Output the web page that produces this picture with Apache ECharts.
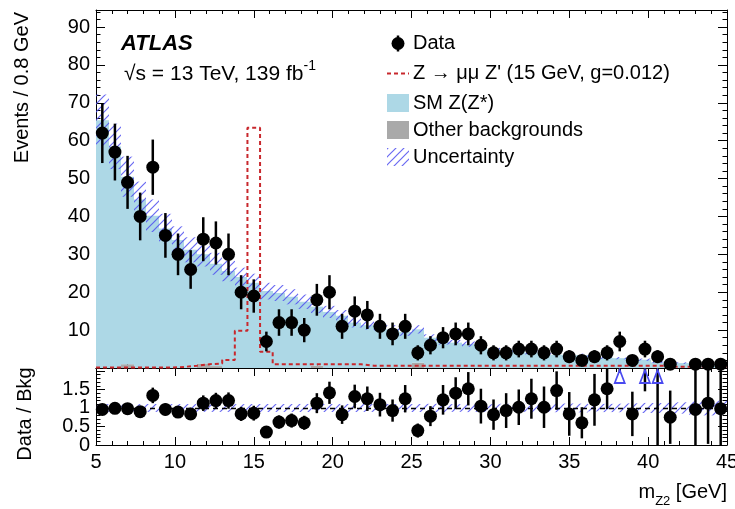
<!DOCTYPE html>
<html>
<head>
<meta charset="utf-8">
<script src="https://cdn.jsdelivr.net/npm/echarts@6/dist/echarts.min.js"></script>
<style>
html, body { margin: 0; padding: 0; background: #fff; }
#chart { width: 735px; height: 509px; }
</style>
</head>
<body>
<div id="chart"></div>
<script>
// 0.8 GeV bins from 5 to 45 GeV
var binEdges = [5, 5.8, 6.6, 7.4, 8.2, 9, 9.8, 10.6, 11.4, 12.2, 13, 13.8, 14.6, 15.4, 16.2, 17, 17.8,
  18.6, 19.4, 20.2, 21, 21.8, 22.6, 23.4, 24.2, 25, 25.8, 26.6, 27.4, 28.2, 29, 29.8, 30.6, 31.4, 32.2,
  33, 33.8, 34.6, 35.4, 36.2, 37, 37.8, 38.6, 39.4, 40.2, 41, 41.8, 42.6, 43.4, 44.2, 45];

// observed events per bin
var dataCounts = [62, 57, 49, 40, 53, 35, 30, 26, 34, 33, 30, 20, 19, 7, 12, 12, 10, 18, 20, 11,
  15, 14, 11, 9, 11, 4, 6, 8, 9, 9, 6, 4, 4, 5, 5, 4, 5, 3, 2, 3,
  4, 7, 2, 5, 3, 1, 0, 1, 1, 1];
var dataErr = [7.9, 7.5, 7.0, 6.3, 7.3, 5.9, 5.5, 5.1, 5.8, 5.7, 5.5, 4.5, 4.4, 2.6, 3.5, 3.5, 3.2, 4.2, 4.5, 3.3,
  3.9, 3.7, 3.3, 3.0, 3.3, 2.0, 2.4, 2.8, 3.0, 3.0, 2.4, 2.0, 2.0, 2.2, 2.2, 2.0, 2.2, 1.7, 1.4, 1.7,
  2.0, 2.6, 1.4, 2.2, 1.7, 1.0, 0, 1.0, 1.0, 1.0];

// SM Z(Z*) and other backgrounds (stacked), with total uncertainty
var smZZ = [65.4, 58.5, 49.5, 44.5, 40.2, 36.8, 33.8, 31.2, 28.8, 27.0, 25.6, 24.0, 22.5, 20.3, 19.8, 18.8, 17.5, 15.6, 14.8, 13.8,
  12.0, 11.3, 10.8, 10.2, 9.5, 8.8, 8.0, 7.0, 6.7, 6.3, 5.7, 4.9, 4.4, 4.8, 4.1, 3.9, 3.5, 3.3, 3.4, 3.2,
  2.7, 2.6, 2.4, 2.2, 1.5, 1.4, 1.3, 1.1, 1.0, 1.0];
var otherBkg = [0, 0, 1.0, 0, 0, 0, 0, 0, 1.2, 0.5, 0, 0, 0, 0, 0, 0, 0, 0.6, 0, 0,
  0, 0, 0, 0, 0, 1.4, 0, 0, 0, 0, 0, 0, 0, 0, 0, 0, 0, 0, 0, 0,
  0, 0, 0, 0, 0, 0, 0, 0, 0, 0];
var bkgUnc = [6.8, 6.0, 5.3, 4.7, 4.3, 3.9, 3.6, 3.3, 3.2, 2.9, 2.7, 2.5, 2.4, 2.2, 2.1, 2.0, 1.9, 1.7, 1.6, 1.5,
  1.3, 1.2, 1.2, 1.1, 1.0, 1.1, 0.9, 0.8, 0.7, 0.7, 0.6, 0.5, 0.5, 0.5, 0.5, 0.4, 0.4, 0.4, 0.4, 0.3,
  0.3, 0.3, 0.3, 0.3, 0.2, 0.2, 0.2, 0.2, 0.2, 0.2];

// Z -> mu mu Z' signal (15 GeV, g=0.012)
var signalZp = [0.1, 0.1, 0.1, 0.1, 0.1, 0.1, 0.3, 0.6, 1.0, 1.2, 2.1, 9.8, 63.4, 4.3, 1.0, 1.0, 1.0, 1.0, 1.0, 1.0,
  1.0, 0.6, 0.6, 0.6, 0.6, 0.6, 0.6, 0.6, 0.6, 0.6, 0.6, 0.6, 0.6, 0.6, 0.6, 0.6, 0.6, 0.6, 0.6, 0.6,
  0.6, 0.6, 0.6, 0.6, 0.6, 0.3, 0.3, 0.3, 0.3, 0.3];

// Data / Bkg ratio panel
var ratioVal = [0.96, 0.99, 0.98, 0.90, 1.34, 0.96, 0.89, 0.84, 1.13, 1.20, 1.20, 0.84, 0.86, 0.35, 0.62, 0.66, 0.60, 1.13, 1.41, 0.82,
  1.31, 1.25, 1.09, 0.93, 1.25, 0.39, 0.78, 1.22, 1.40, 1.52, 1.05, 0.82, 0.93, 1.02, 1.25, 1.02, 1.47, 0.84, 0.60, 1.22,
  1.52, 3.00, 0.84, 2.50, 2.30, 0.75, null, 0.96, 1.13, 0.98];
var ratioErr = [0.12, 0.13, 0.14, 0.14, 0.21, 0.16, 0.16, 0.16, 0.21, 0.21, 0.22, 0.19, 0.20, 0.14, 0.18, 0.19, 0.19, 0.27, 0.30, 0.25,
  0.32, 0.33, 0.32, 0.30, 0.37, 0.19, 0.27, 0.40, 0.43, 0.45, 0.47, 0.41, 0.47, 0.48, 0.54, 0.56, 0.52, 0.59, 0.42, 0.70,
  0.55, 1.05, 0.60, 1.05, 2.30, 0.72, null, 1.10, 1.10, 1.10];

var mainYMax = 94.5;
var ratioYMax = 2.08;
var FONT = '"Liberation Sans", Arial, Helvetica, sans-serif';

var binCenters = binEdges.slice(0, -1).map(function (e, i) { return (e + binEdges[i + 1]) / 2; });
var bkgTotal = smZZ.map(function (v, i) { return v + otherBkg[i]; });

function makeHatch(color, step, width) {
  var c = document.createElement('canvas');
  c.width = step; c.height = step;
  var ctx = c.getContext('2d');
  ctx.strokeStyle = color;
  ctx.lineWidth = width;
  ctx.beginPath();
  ctx.moveTo(-1, step + 1); ctx.lineTo(step + 1, -1);
  ctx.moveTo(-2, 2); ctx.lineTo(2, -2);
  ctx.moveTo(step - 2, step + 2); ctx.lineTo(step + 2, step - 2);
  ctx.stroke();
  return c;
}
var hatch = { image: makeHatch('rgba(80,80,240,0.85)', 8, 1.2), repeat: 'repeat' };

// one rect per bin between lows[i] and highs[i]
function histSeries(name, gi, lows, highs, style, z) {
  return {
    name: name, type: 'custom', xAxisIndex: gi * 2, yAxisIndex: gi * 2, z: z, silent: true,
    data: binCenters.map(function (c, i) { return [c, highs[i]]; }),
    renderItem: function (params, api) {
      var i = params.dataIndex;
      var cs = params.coordSys;
      var a = api.coord([binEdges[i], lows[i]]);
      var b = api.coord([binEdges[i + 1], highs[i]]);
      var x0 = Math.round(a[0]), x1 = Math.round(b[0]);
      var yBot = Math.min(a[1], cs.y + cs.height);
      var yTop = Math.max(b[1], cs.y);
      if (yBot - yTop <= 0.05) return null;
      return { type: 'rect', shape: { x: x0, y: yTop, width: x1 - x0, height: yBot - yTop },
        style: Object.assign({}, style) };
    }
  };
}

function errSeries(gi, vals, errs, z) {
  var pts = [];
  binCenters.forEach(function (c, i) {
    if (vals[i] != null && vals[i] > 0) pts.push([c, vals[i], errs[i]]);
  });
  return {
    type: 'custom', xAxisIndex: gi * 2, yAxisIndex: gi * 2, z: z, silent: true,
    data: pts,
    renderItem: function (params, api) {
      var cs = params.coordSys;
      var x = api.value(0), v = api.value(1), e = api.value(2);
      var top = api.coord([x, v + e]);
      var bot = api.coord([x, v - e]);
      var y0 = Math.max(top[1], cs.y), y1 = Math.min(bot[1], cs.y + cs.height);
      if (y1 <= y0) return null;
      return { type: 'line', shape: { x1: top[0], y1: y0, x2: top[0], y2: y1 },
        style: { stroke: '#000', lineWidth: 2.5 } };
    }
  };
}

function xAx(gi, pos, withLabels) {
  return {
    type: 'value', gridIndex: gi, position: pos, min: 5, max: 45, interval: 5,
    axisLine: { onZero: false, lineStyle: { color: '#000', width: 1 } },
    axisTick: { inside: true, length: 8, lineStyle: { color: '#000', width: 1 } },
    minorTick: { show: true, splitNumber: 5, length: 4, lineStyle: { color: '#000', width: 1 } },
    splitLine: { show: false },
    axisLabel: withLabels ? { show: true, margin: 7, color: '#000', fontSize: 20, fontFamily: FONT,
      showMinLabel: true, showMaxLabel: true, hideOverlap: false } : { show: false }
  };
}
function yAx(gi, pos, max, interval, fmt) {
  return {
    type: 'value', gridIndex: gi, position: pos, min: 0, max: max, interval: interval,
    axisLine: { onZero: false, lineStyle: { color: '#000', width: 1 } },
    axisTick: { inside: true, length: 9, lineStyle: { color: '#000', width: 1 } },
    minorTick: { show: true, splitNumber: 5, length: 4.5, lineStyle: { color: '#000', width: 1 } },
    splitLine: { show: false },
    axisLabel: fmt ? { show: true, margin: 6, color: '#000', fontSize: 20, fontFamily: FONT,
      formatter: fmt, hideOverlap: false } : { show: false }
  };
}

function pickLabels(list) {
  return function (v) {
    var ok = list.some(function (t) { return Math.abs(v - t) < 1e-6; });
    return ok ? String(Math.round(v * 10) / 10) : '';
  };
}
var mainFmt = function (v) { return (v > 0 && v <= 90 && Math.abs(v % 10) < 1e-6) ? String(v) : ''; };

// the "0" of the ratio axis sits on its own label-only axis so it is not dropped as overlapping
var ratioZeroAxis = yAx(1, 'left', ratioYMax, 0.5, pickLabels([0]));
ratioZeroAxis.axisLine = { show: false, onZero: false };
ratioZeroAxis.axisTick = { show: false };
ratioZeroAxis.minorTick = { show: false };
ratioZeroAxis.axisLabel.showMinLabel = true;

var otherLow = otherBkg.map(function () { return 0; });
var bandLow = bkgTotal.map(function (v, i) { return v - bkgUnc[i]; });
var bandHigh = bkgTotal.map(function (v, i) { return v + bkgUnc[i]; });
var ratioBandLow = bkgTotal.map(function (v, i) { return 1 - bkgUnc[i] / v; });
var ratioBandHigh = bkgTotal.map(function (v, i) { return 1 + bkgUnc[i] / v; });

var mainPoints = [];
var ratioPoints = [];
var ratioArrows = [];
binCenters.forEach(function (c, i) {
  if (dataCounts[i] > 0) mainPoints.push([c, dataCounts[i]]);
  if (ratioVal[i] != null) {
    if (ratioVal[i] <= ratioYMax) ratioPoints.push([c, ratioVal[i]]);
    else ratioArrows.push([c, ratioYMax - 0.23]);
  }
});
var signalSteps = binEdges.map(function (e, i) { return [e, signalZp[Math.min(i, signalZp.length - 1)]]; });

var chart = echarts.init(document.getElementById('chart'), null, { renderer: 'canvas' });
chart.setOption({
  animation: false,
  backgroundColor: '#fff',
  textStyle: { fontFamily: FONT },
  grid: [
    { left: 96, top: 10, width: 631, height: 358, containLabel: false, outerBoundsMode: 'none' },
    { left: 96, top: 368, width: 631, height: 77, containLabel: false, outerBoundsMode: 'none' }
  ],
  xAxis: [xAx(0, 'bottom', false), xAx(0, 'top', false), xAx(1, 'bottom', true), xAx(1, 'top', false)],
  yAxis: [yAx(0, 'left', mainYMax, 10, mainFmt), yAx(0, 'right', mainYMax, 10, null),
          yAx(1, 'left', ratioYMax, 0.5, pickLabels([0.5, 1, 1.5])), yAx(1, 'right', ratioYMax, 0.5, null),
          ratioZeroAxis],
  series: [
    histSeries('Other backgrounds', 0, otherLow, otherBkg, { fill: '#a9a9a9' }, 1),
    histSeries('SM Z(Z*)', 0, otherBkg, bkgTotal, { fill: '#add8e6' }, 1),
    histSeries('Uncertainty', 0, bandLow, bandHigh, { fill: hatch }, 2),
    {
      name: "Z' signal", type: 'line', xAxisIndex: 0, yAxisIndex: 0, z: 3, step: 'end',
      showSymbol: false, silent: true, data: signalSteps,
      lineStyle: { color: '#c8282d', width: 2, type: [4, 3] }
    },
    errSeries(0, dataCounts, dataErr, 4),
    {
      name: 'Data', type: 'scatter', xAxisIndex: 0, yAxisIndex: 0, z: 5, silent: true,
      symbol: 'circle', symbolSize: 13, data: mainPoints, itemStyle: { color: '#000', opacity: 1 }
    },
    histSeries('Ratio uncertainty', 1, ratioBandLow, ratioBandHigh, { fill: hatch }, 2),
    errSeries(1, ratioVal, ratioErr, 4),
    {
      name: 'Ratio', type: 'scatter', xAxisIndex: 2, yAxisIndex: 2, z: 5, silent: true,
      symbol: 'circle', symbolSize: 13, data: ratioPoints, itemStyle: { color: '#000', opacity: 1 },
      markLine: {
        silent: true, symbol: 'none', z: 3, label: { show: false },
        lineStyle: { color: '#000', width: 1.3, type: [5, 4], opacity: 1 },
        data: [{ yAxis: 1 }]
      }
    },
    {
      name: 'Off-scale', type: 'scatter', xAxisIndex: 2, yAxisIndex: 2, z: 6, silent: true,
      symbol: 'triangle', symbolSize: [10, 13], data: ratioArrows,
      itemStyle: { color: 'rgba(0,0,0,0)', borderColor: '#4a4af0', borderWidth: 1.8, opacity: 1 }
    }
  ],
  graphic: [
    { type: 'text', x: 121, y: 44, style: { text: 'ATLAS', fill: '#000', fontFamily: FONT, fontSize: 22,
      fontWeight: 'bold', fontStyle: 'italic', verticalAlign: 'middle' } },
    { type: 'text', x: 124, y: 72, style: {
      text: '{b|\u221As = 13 TeV, 139 fb}{s|-1}', verticalAlign: 'middle',
      rich: { b: { fontSize: 21, fontFamily: FONT, fill: '#000', lineHeight: 26, verticalAlign: 'bottom' },
              s: { fontSize: 14, fontFamily: FONT, fill: '#000', lineHeight: 26, verticalAlign: 'top' } } } },
    // legend
    { type: 'line', shape: { x1: 398, y1: 35.5, x2: 398, y2: 51.5 }, style: { stroke: '#000', lineWidth: 2.5 } },
    { type: 'circle', shape: { cx: 398, cy: 43.5, r: 6.5 }, style: { fill: '#000' } },
    { type: 'text', x: 413, y: 43.5, style: { text: 'Data', fontSize: 20, fontFamily: FONT, fill: '#000', verticalAlign: 'middle' } },
    { type: 'line', shape: { x1: 387, y1: 73.5, x2: 409, y2: 73.5 }, style: { stroke: '#c8282d', lineWidth: 2, lineDash: [4, 3] } },
    { type: 'text', x: 413, y: 73.5, style: { text: "Z \u2192 \u03BC\u03BC Z' (15 GeV, g=0.012)", fontSize: 20, fontFamily: FONT, fill: '#000', verticalAlign: 'middle' } },
    { type: 'rect', shape: { x: 387, y: 94, width: 22, height: 18 }, style: { fill: '#add8e6' } },
    { type: 'text', x: 413, y: 103, style: { text: 'SM Z(Z*)', fontSize: 20, fontFamily: FONT, fill: '#000', verticalAlign: 'middle' } },
    { type: 'rect', shape: { x: 387, y: 121, width: 22, height: 18 }, style: { fill: '#a9a9a9' } },
    { type: 'text', x: 413, y: 130, style: { text: 'Other backgrounds', fontSize: 20, fontFamily: FONT, fill: '#000', verticalAlign: 'middle' } },
    { type: 'rect', shape: { x: 387, y: 148, width: 22, height: 18 }, style: { fill: hatch } },
    { type: 'text', x: 413, y: 157, style: { text: 'Uncertainty', fontSize: 20, fontFamily: FONT, fill: '#000', verticalAlign: 'middle' } },
    // axis titles
    { type: 'text', x: 22, y: 12, rotation: Math.PI / 2, style: { text: 'Events / 0.8 GeV', fontSize: 20,
      fontFamily: FONT, fill: '#000', align: 'right', verticalAlign: 'middle' } },
    { type: 'text', x: 25, y: 414, rotation: Math.PI / 2, style: { text: 'Data / Bkg', fontSize: 20,
      fontFamily: FONT, fill: '#000', align: 'center', verticalAlign: 'middle' } },
    { type: 'text', x: 727, y: 495, style: {
      text: '{m|m}{z|Z2}{m| [GeV]}', align: 'right', verticalAlign: 'middle',
      rich: { m: { fontSize: 20, fontFamily: FONT, fill: '#000', lineHeight: 26, verticalAlign: 'top' },
              z: { fontSize: 13, fontFamily: FONT, fill: '#000', lineHeight: 26, verticalAlign: 'bottom' } } } }
  ]
});
</script>
</body>
</html>
